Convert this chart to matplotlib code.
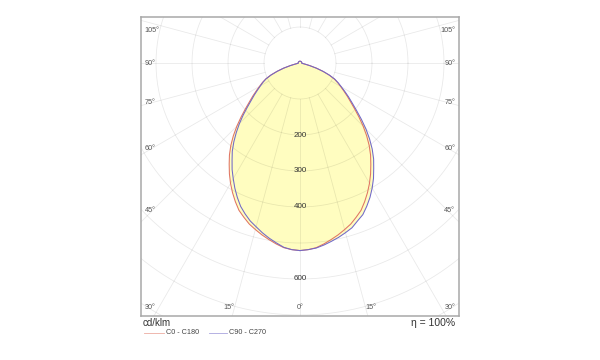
import numpy as np
import matplotlib
matplotlib.use("Agg")
import matplotlib.pyplot as plt
from matplotlib.lines import Line2D

plt.rcParams['font.family'] = ['Liberation Sans', 'DejaVu Sans']

# luminous intensity distribution, cd/klm
# gamma 0..87.5 in 2.5 deg steps, then 90..180 in 10 deg steps
gamma = np.r_[np.arange(0, 90, 2.5), np.arange(90, 181, 10)]
i_c0_c180 = [521, 519, 515, 507, 498, 489, 479, 469, 456, 443, 425, 406,
             386, 365, 343, 322, 299, 274, 248, 222, 198, 177, 160, 144,
             130, 118, 105, 88, 68, 48, 28, 14, 7, 5, 5, 5] + [5] * 10
i_c90 = [521, 519, 516, 510, 503, 496, 488, 480, 467, 456, 439, 421,
         401, 380, 357, 336, 312, 286, 259, 231, 205, 183, 165, 148,
         133, 120, 107, 89, 69, 48, 28, 14, 7, 5, 5, 5] + [5] * 10
i_c270 = [521, 519, 514, 504, 494, 483, 471, 460, 446, 431, 412, 392,
          371, 351, 329, 309, 286, 262, 238, 214, 191, 171, 155, 140,
          127, 116, 104, 87, 67, 48, 28, 14, 7, 5, 5, 5] + [5] * 10

ring_values = [100, 200, 300, 400, 500, 600, 700, 800]
ring_labels = [200, 300, 400, 600]
angle_labels = [0, 15, 30, 45, 60, 75, 90, 105]

red = '#e07462'
blue = '#7068c8'
fill_col = '#fffdc0'
grid_col = (0, 0, 0, 0.085)

fig = plt.figure(figsize=(6, 3.6), dpi=100)
ax = fig.add_axes([141 / 600, 44 / 360, 318 / 600, 299 / 360])
ax.set_xlim(-441.7, 441.7)
ax.set_ylim(-702.8, 127.8)
ax.set_xticks([])
ax.set_yticks([])
for s in ax.spines.values():
    s.set_color('#a8a8a8')
    s.set_linewidth(1.1)


def curve(right, left):
    g = np.radians(gamma)
    r = np.asarray(right, float)
    l = np.asarray(left, float)
    x = np.concatenate([r * np.sin(g), (-l * np.sin(g))[::-1]])
    y = np.concatenate([-r * np.cos(g), (-l * np.cos(g))[::-1]])
    return x, y


xr, yr = curve(i_c0_c180, i_c0_c180)
xb, yb = curve(i_c90, i_c270)
ax.fill(xr, yr, color=fill_col, lw=0, zorder=1)
ax.fill(xb, yb, color=fill_col, lw=0, zorder=1)

# grid: rings and radial lines
t = np.linspace(0, 2 * np.pi, 400)
for rv in ring_values:
    ax.plot(rv * np.cos(t), rv * np.sin(t), color=grid_col, lw=0.6, zorder=2)
for a in np.arange(0, 360, 15):
    ar = np.radians(a)
    ax.plot([100 * np.sin(ar), 1200 * np.sin(ar)], [-100 * np.cos(ar), -1200 * np.cos(ar)],
            color=grid_col, lw=0.6, zorder=2)

ax.plot(xr, yr, color=red, lw=0.75, zorder=3)
ax.plot(xb, yb, color=blue, lw=0.75, zorder=3)

for v in ring_labels:
    ax.text(0, -v, str(v), ha='center', va='center', fontsize=5.8, color='#333333', zorder=4)

# angle labels along the frame
W, B, T, Bc = 411, 736, 89, 678
for a in angle_labels:
    sides = [1] if a == 0 else [-1, 1]
    for s in sides:
        ar = np.radians(a)
        dx, dy = s * np.sin(ar), -np.cos(ar)
        ts = W / abs(dx) if abs(dx) > 1e-9 else np.inf
        tb = B / abs(dy) if dy < 0 else np.inf
        tt = min(ts, tb)
        px, py = tt * dx, tt * dy
        py = min(max(py, -Bc), T)
        if abs(px) >= W - 1:
            ax.text(-431 if s < 0 else 431, py, f'{a}°', ha='left' if s < 0 else 'right',
                    va='center', fontsize=5.2, color='#555555', zorder=4)
        else:
            ax.text(px, py, f'{a}°', ha='center', va='center', fontsize=5.2,
                    color='#555555', zorder=4)

fig.text(143 / 600, 1 - 323 / 360, 'cd/klm', ha='left', va='center', fontsize=7, color='#333333')
fig.text(455 / 600, 1 - 323 / 360, 'η = 100%', ha='right', va='center', fontsize=7.5, color='#333333')
fig.add_artist(Line2D([144 / 600, 164 / 600], [1 - 333 / 360] * 2, color=red, lw=0.6,
                      alpha=0.6, transform=fig.transFigure))
fig.text(166 / 600, 1 - 333 / 360, 'C0 - C180', ha='left', va='center', fontsize=5.2, color='#444444')
fig.add_artist(Line2D([209 / 600, 227 / 600], [1 - 333 / 360] * 2, color=blue, lw=0.6,
                      alpha=0.6, transform=fig.transFigure))
fig.text(229 / 600, 1 - 333 / 360, 'C90 - C270', ha='left', va='center', fontsize=5.2, color='#444444')

fig.savefig('out.png', dpi=100, facecolor='white')
